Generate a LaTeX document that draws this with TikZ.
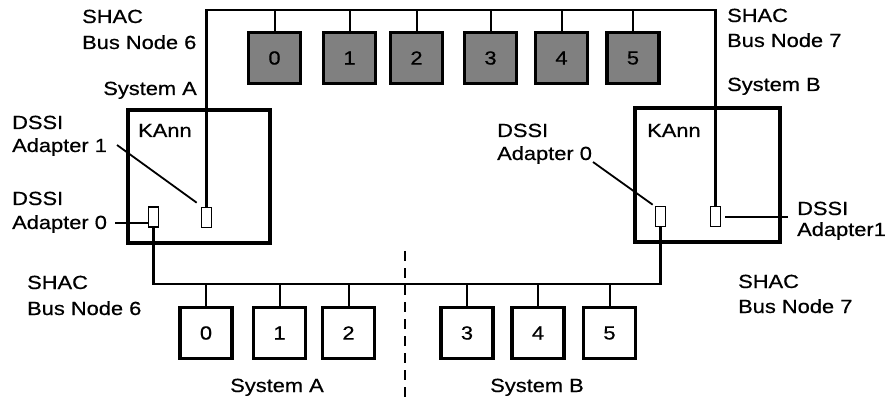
\documentclass[tikz,border=0pt]{standalone}
\usepackage{fontspec}
\setmainfont[FakeStretch=1.15,FakeBold=0.6]{Liberation Sans}
\begin{document}
\begin{tikzpicture}[x=1pt,y=-1pt,
  lbl/.style={inner sep=0pt, font=\fontsize{19}{23}\selectfont},
  devbox/.style={draw, line width=3.2pt, minimum width=52pt, minimum height=51pt, inner sep=0pt, font=\fontsize{19}{23}\selectfont},
  shadebox/.style={devbox, fill=black!50},
  cpubox/.style={draw, line width=3.2pt, inner sep=0pt},
  adp/.style={draw, line width=1.6pt, minimum width=10pt, minimum height=20pt, inner sep=0pt},
  bus/.style={line width=2.4pt},
  stub/.style={line width=2pt},
  leader/.style={line width=1.8pt},
  sep/.style={line width=2.4pt, dash pattern=on 10pt off 7pt}]
\useasboundingbox (0,0) rectangle (889,398);

% CPU boxes
\node[cpubox, minimum width=142pt, minimum height=133pt] (kL) at (199,176.5) {};
\node[cpubox, minimum width=145pt, minimum height=134pt] (kR) at (707.5,175) {};
\node[lbl, anchor=base west] (kLt) at (138,137) {KAnn};
\node[lbl, anchor=base west] (kRt) at (647,137) {KAnn};

% adapters
\node[adp] (aL0) at (153.5,217) {};
\node[adp] (aL1) at (206.5,217.5) {};
\node[adp] (aR0) at (660.5,216.5) {};
\node[adp] (aR1) at (715.5,216.5) {};

% bus coordinates
\coordinate (topbus) at (0,10);
\coordinate (botbus) at (0,284);

% top shaded devices
\node[shadebox] (t0) at (274.5,58) {0};
\node[shadebox] (t1) at (349.5,58) {1};
\node[shadebox] (t2) at (416.5,58) {2};
\node[shadebox] (t3) at (490.5,58) {3};
\node[shadebox] (t4) at (561.5,58) {4};
\node[shadebox] (t5) at (633,58) {5};

% bottom devices
\node[devbox] (b0) at (206,333) {0};
\node[devbox] (b1) at (279.5,333) {1};
\node[devbox] (b2) at (348.5,333) {2};
\node[devbox] (b3) at (467,333) {3};
\node[devbox] (b4) at (538,333) {4};
\node[devbox] (b5) at (609.5,333) {5};

% top bus
\draw[bus] (aL1.north) -- (aL1.north |- topbus) -- (aR1.north |- topbus) -- (aR1.north);
\foreach \n in {t0,t1,t2,t3,t4,t5} \draw[stub] (\n.north) -- (\n.north |- topbus);

% bottom bus
\draw[bus] (aL0.south) -- (aL0.south |- botbus) -- (aR0.south |- botbus) -- (aR0.south);
\foreach \n in {b0,b1,b2,b3,b4,b5} \draw[stub] (\n.north) -- (\n.north |- botbus);

% separator
\coordinate (sepT) at (405,251);
\coordinate (sepB) at (405,398);
\draw[sep] (sepT) -- (sepB);

% labels top
\node[lbl, anchor=base west] (s6a) at (82,23) {SHAC};
\node[lbl, anchor=base west] (s6b) at (82,49) {Bus Node 6};
\node[lbl, anchor=base east] (sysAt) at (197,95) {System A};
\node[lbl, anchor=base west] (s7a) at (727,22) {SHAC};
\node[lbl, anchor=base west] (s7b) at (727,47) {Bus Node 7};
\node[lbl, anchor=base west] (sysBt) at (727,91) {System B};

% adapter labels
\node[lbl, anchor=base west] (dL1a) at (12,129) {DSSI};
\node[lbl, anchor=base west] (dL1b) at (12,152) {Adapter 1};
\node[lbl, anchor=base west] (dL0a) at (12,205) {DSSI};
\node[lbl, anchor=base west] (dL0b) at (12,229) {Adapter 0};
\node[lbl, anchor=base west] (dR0a) at (497,137) {DSSI};
\node[lbl, anchor=base west] (dR0b) at (497,160) {Adapter 0};
\node[lbl, anchor=base west] (dR1a) at (797,215) {DSSI};
\node[lbl, anchor=base west] (dR1b) at (797,236) {Adapter1};

% leaders
\coordinate (cL1) at (117,145);
\coordinate (cL0) at (115,223);
\coordinate (cR0) at (593,162);
\coordinate (cR1) at (788,217);
\draw[leader] (cL1) -- ([shift={(-4,-4)}]aL1.north west);
\draw[leader] (cL0) -- (cL0 -| aL0.west);
\draw[leader] (cR0) -- ([shift={(-2,-1)}]aR0.north west);
\draw[leader] ([xshift=4pt]aR1.east |- cR1) -- (cR1);

% bottom labels
\node[lbl, anchor=base west] (s6c) at (27,289) {SHAC};
\node[lbl, anchor=base west] (s6d) at (27,315) {Bus Node 6};
\node[lbl, anchor=base west] (s7c) at (738,288) {SHAC};
\node[lbl, anchor=base west] (s7d) at (738,313) {Bus Node 7};
\node[lbl, anchor=base] (sysAb) at (277,392) {System A};
\node[lbl, anchor=base] (sysBb) at (537,392) {System B};
\end{tikzpicture}
\end{document}
